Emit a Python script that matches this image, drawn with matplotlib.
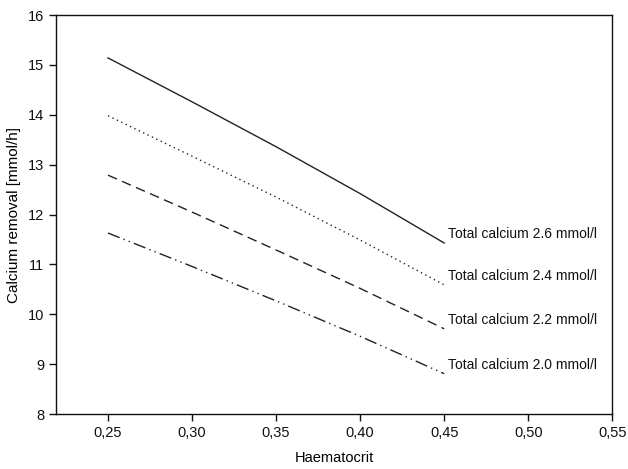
import matplotlib
matplotlib.use('Agg')
import matplotlib.pyplot as plt
from matplotlib.ticker import FuncFormatter

plt.rcParams['font.family'] = ['Liberation Sans', 'DejaVu Sans']

# haematocrit values and calcium removal per total calcium level
hct = [0.25, 0.30, 0.35, 0.40, 0.45]
removal_26 = [15.14, 14.26, 13.36, 12.42, 11.43]
removal_24 = [13.98, 13.17, 12.35, 11.49, 10.59]
removal_22 = [12.79, 12.05, 11.29, 10.52, 9.71]
removal_20 = [11.63, 10.96, 10.27, 9.56, 8.81]
labels = ['Total calcium 2.6 mmol/l', 'Total calcium 2.4 mmol/l',
          'Total calcium 2.2 mmol/l', 'Total calcium 2.0 mmol/l']

x_ticks = [0.25, 0.30, 0.35, 0.40, 0.45, 0.50, 0.55]
y_ticks = [8, 9, 10, 11, 12, 13, 14, 15, 16]

fig = plt.figure(figsize=(6.28, 4.69), dpi=100)
ax = fig.add_axes([0.089, 0.117, 0.886, 0.851])

styles = [
  dict(ls='-'),
  dict(ls=(0, (1, 2.5))),
  dict(ls=(0, (7, 4))),
  dict(ls=(0, (9, 3, 1, 3, 1, 3))),
]
series = [removal_26, removal_24, removal_22, removal_20]

for vals, st, lab in zip(series, styles, labels):
  ax.plot(hct, vals, color='#222222', lw=1.0, **st)
  ax.annotate(lab, xy=(hct[-1], vals[-1]), xytext=(3, 6.5), textcoords='offset points',
              fontsize=10, va='center', ha='left', color='#111111')

ax.set_xlim(0.219, 0.55)
ax.set_ylim(8, 16)
ax.set_xticks(x_ticks)
ax.set_yticks(y_ticks)
ax.xaxis.set_major_formatter(FuncFormatter(lambda v, p: f'{v:.2f}'.replace('.', ',')))
ax.tick_params(direction='out', length=5, width=1, labelsize=10.5, colors='#111111')
for s in ax.spines.values():
  s.set_linewidth(1.0)
  s.set_color('#111111')

ax.set_xlabel('Haematocrit', fontsize=10.5, labelpad=8)
ax.set_ylabel('Calcium removal [mmol/h]', fontsize=11, labelpad=5)

fig.savefig('out.png', dpi=100)
